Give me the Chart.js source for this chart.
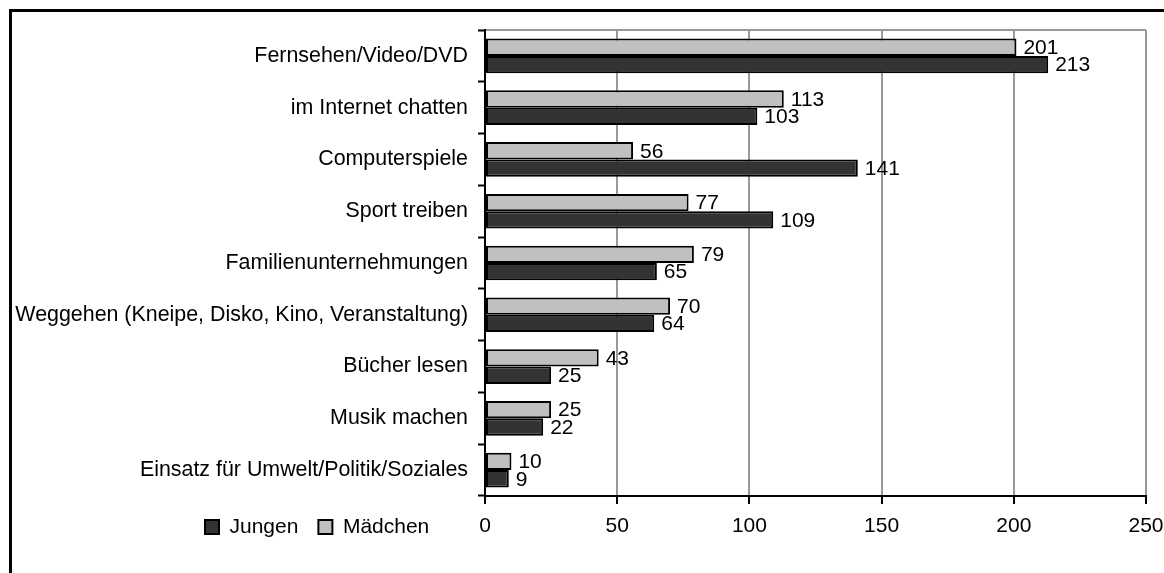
<!DOCTYPE html>
<html>
<head>
<meta charset="utf-8">
<script src="https://cdn.jsdelivr.net/npm/chart.js@4"></script>
<style>
  body { margin: 0; background: #fff; }
  canvas { display: block; }
</style>
</head>
<body>
<canvas id="myChart" width="1164" height="573"></canvas>
<script>
// data
const categories = [
    'Fernsehen/Video/DVD',
    'im Internet chatten',
    'Computerspiele',
    'Sport treiben',
    'Familienunternehmungen',
    'Weggehen (Kneipe, Disko, Kino, Veranstaltung)',
    'Bücher lesen',
    'Musik machen',
    'Einsatz für Umwelt/Politik/Soziales'
];
const maedchen = [201, 113, 56, 77, 79, 70, 43, 25, 10];
const jungen = [213, 103, 141, 109, 65, 64, 25, 22, 9];
const xMin = 0, xMax = 250, xStep = 50;

const FONT = "'Liberation Sans', Arial, sans-serif";
const W = 1164, H = 573;
const AXIS_BOTTOM = 496;

// frame + top line + value labels + legend position
const extras = {
    id: 'extras',
    afterInit(chart) {
        // legend sits next to the x labels, so it should not take layout space
        const lg = chart.legend;
        const fit = lg.fit;
        lg.fit = function() {
            fit.call(this);
            this._realHeight = this.height;
            this.height = 0;
        };
    },
    afterLayout(chart) {
        const lg = chart.legend;
        lg.left = 185;
        lg.right = 185 + 420;
        lg.top = 496.5;
        lg.bottom = lg.top + (lg._realHeight || 51);
        lg.height = lg._realHeight || 51;
    },
    beforeDraw(chart) {
        const ctx = chart.ctx;
        ctx.save();
        ctx.fillStyle = '#fff';
        ctx.fillRect(0, 0, W, H);
        ctx.strokeStyle = '#000';
        ctx.lineWidth = 3;
        ctx.beginPath();
        ctx.moveTo(10.5, H + 5);
        ctx.lineTo(10.5, 10.5);
        ctx.lineTo(W + 5, 10.5);
        ctx.stroke();
        const a = chart.chartArea;
        ctx.strokeStyle = '#999';
        ctx.lineWidth = 2;
        ctx.beginPath();
        ctx.moveTo(a.left, a.top);
        ctx.lineTo(a.right, a.top);
        ctx.stroke();
        ctx.restore();
    },
    afterDatasetsDraw(chart) {
        const ctx = chart.ctx;
        ctx.save();
        ctx.font = '21px ' + FONT;
        ctx.fillStyle = '#000';
        ctx.textAlign = 'left';
        ctx.textBaseline = 'middle';
        chart.data.datasets.forEach((ds, i) => {
            chart.getDatasetMeta(i).data.forEach((bar, j) => {
                ctx.fillText(ds.data[j], bar.x + 7, bar.y + 1);
            });
        });
        ctx.restore();
    }
};

const ctx = document.getElementById('myChart').getContext('2d');
const myChart = new Chart(ctx, {
    type: 'bar',
    data: {
        labels: categories,
        datasets: [
            {
                label: 'Mädchen',
                data: maedchen,
                backgroundColor: '#c0c0c0',
                borderColor: '#000',
                borderWidth: 2,
                borderSkipped: false
            },
            {
                label: 'Jungen',
                data: jungen,
                backgroundColor: '#333333',
                borderColor: '#000',
                borderWidth: 2,
                borderSkipped: false
            }
        ]
    },
    options: {
        indexAxis: 'y',
        responsive: false,
        animation: false,
        devicePixelRatio: 1,
        categoryPercentage: 0.67,
        barPercentage: 1,
        layout: { padding: { left: 0, top: 30, right: 18, bottom: 0 } },
        scales: {
            x: {
                min: xMin,
                max: xMax,
                ticks: {
                    stepSize: xStep,
                    color: '#000',
                    padding: 10,
                    font: { family: FONT, size: 21 }
                },
                grid: {
                    color: (c) => (c.tick && c.tick.value === 0) ? 'rgba(0,0,0,0)' : '#999',
                    lineWidth: 2,
                    tickColor: '#000',
                    tickWidth: 2,
                    tickLength: 8
                },
                border: { color: '#000', width: 2 },
                afterFit(s) {
                    s.height = H - AXIS_BOTTOM;
                    s.paddingLeft = 0;
                    s.paddingRight = 0;
                }
            },
            y: {
                ticks: {
                    color: '#000',
                    padding: 10,
                    font: { family: FONT, size: 21.4 }
                },
                grid: {
                    offset: true,
                    drawOnChartArea: false,
                    tickColor: '#000',
                    tickWidth: 2,
                    tickLength: 7
                },
                border: { color: '#000', width: 2 },
                afterFit(s) {
                    s.width = 485;
                }
            }
        },
        plugins: {
            legend: {
                position: 'bottom',
                align: 'start',
                reverse: true,
                labels: {
                    color: '#000',
                    boxWidth: 14,
                    boxHeight: 14,
                    padding: 20,
                    font: { family: FONT, size: 21 }
                }
            },
            tooltip: { enabled: false }
        }
    },
    plugins: [extras]
});
</script>
</body>
</html>
